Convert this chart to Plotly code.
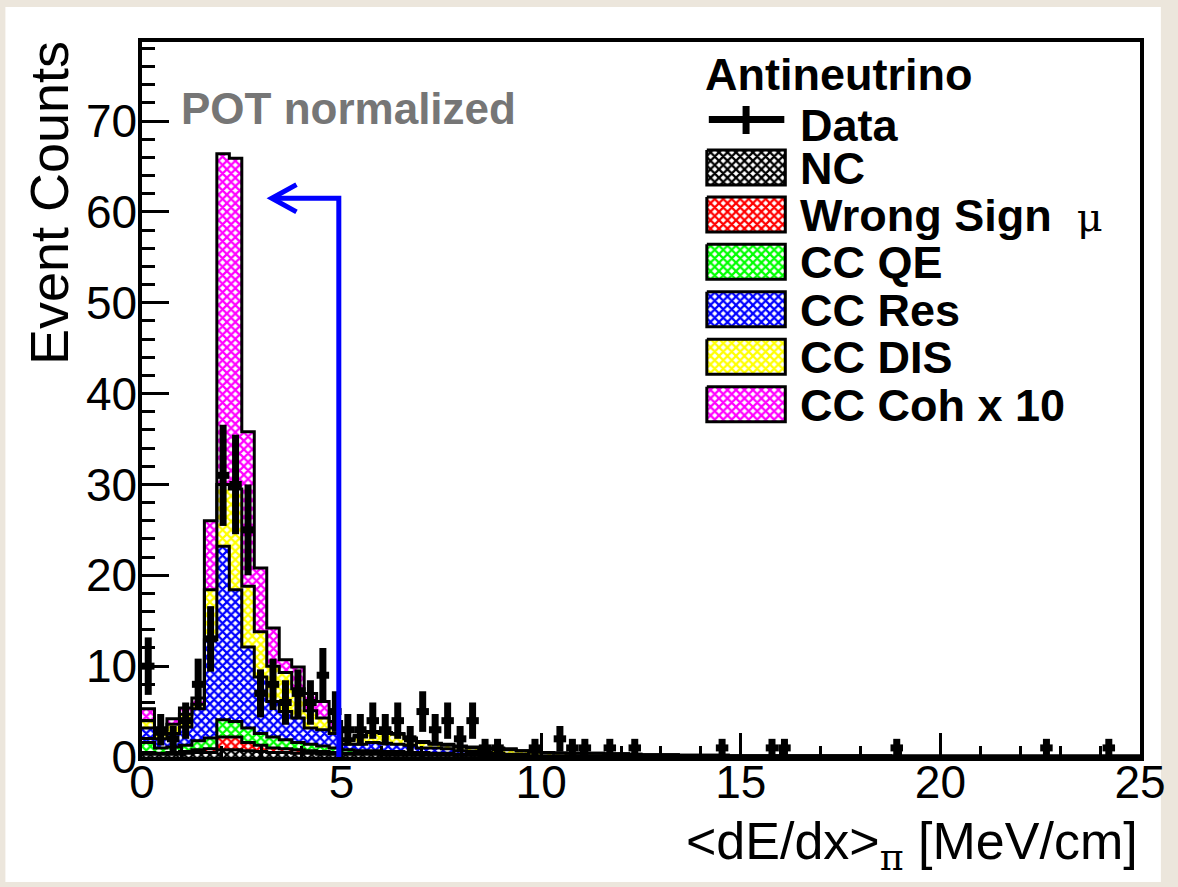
import numpy as np
import plotly.graph_objects as go

# ---------------- data ----------------
bin_width = 0.3125
n_bins = 80
bin_edges = np.arange(n_bins + 1) * bin_width
bin_centers = bin_edges[:-1] + bin_width / 2

nc = [0.3, 0.3, 0.3, 0.4, 0.5, 0.5, 0.8, 0.8, 0.7, 0.6,
      0.5, 0.5, 0.4, 0.4, 0.3, 0.3, 0.3, 0.3, 0.3, 0.2,
      0.2, 0.2, 0.2, 0.2, 0.2, 0.2, 0.2, 0.1, 0.1, 0.1,
      0.1, 0.1, 0.1, 0.1, 0.1, 0.1, 0.1, 0.1, 0.1, 0.1,
      0.05, 0.05, 0.05, 0.05, 0.05, 0.05, 0.05, 0.05, 0.05, 0.05,
      0.05, 0.05, 0.05, 0.05, 0.05, 0.05, 0.05, 0.05, 0.05, 0.05,
      0.05, 0.05, 0.05, 0.05, 0.05, 0.05, 0.05, 0.05, 0.05, 0.05,
      0.05, 0.05, 0.05, 0.05, 0.05, 0.05, 0.05, 0.05, 0.05, 0.05]
wrong_sign = [0.2, 0.1, 0.2, 0.2, 0.3, 0.4, 1.4, 1.4, 0.9, 0.7,
              0.5, 0.4, 0.4, 0.3, 0.3, 0.2, 0.1, 0.1, 0.1, 0.1,
              0.1, 0.1, 0.1, 0.1, 0.1, 0.0, 0.0, 0.1, 0.1, 0.05,
              0.05, 0.0, 0.0, 0.0, 0.0, 0.0, 0.0, 0.0, 0.0, 0.0,
              0.0, 0.0, 0.0, 0.0, 0.0, 0.0, 0.0, 0.0, 0.0, 0.0,
              0.0, 0.0, 0.0, 0.0, 0.0, 0.0, 0.0, 0.0, 0.0, 0.0,
              0.0, 0.0, 0.0, 0.0, 0.0, 0.0, 0.0, 0.0, 0.0, 0.0,
              0.0, 0.0, 0.0, 0.0, 0.0, 0.0, 0.0, 0.0, 0.0, 0.0]
cc_qe = [1.1, 0.6, 0.6, 0.7, 1.0, 1.2, 1.9, 1.7, 1.6, 1.3,
         1.2, 1.0, 0.8, 0.7, 0.6, 0.5, 0.4, 0.3, 0.3, 0.3,
         0.3, 0.2, 0.2, 0.1, 0.1, 0.1, 0.1, 0.1, 0.1, 0.05,
         0.05, 0.0, 0.0, 0.0, 0.0, 0.0, 0.0, 0.0, 0.0, 0.0,
         0.0, 0.0, 0.0, 0.0, 0.0, 0.0, 0.0, 0.0, 0.0, 0.0,
         0.0, 0.0, 0.0, 0.0, 0.0, 0.0, 0.0, 0.0, 0.0, 0.0,
         0.0, 0.0, 0.0, 0.0, 0.0, 0.0, 0.0, 0.0, 0.0, 0.0,
         0.0, 0.0, 0.0, 0.0, 0.0, 0.0, 0.0, 0.0, 0.0, 0.0]
cc_res = [1.6, 1.0, 1.5, 2.0, 3.5, 10.8, 19.1, 14.5, 8.9, 6.2,
          3.9, 3.1, 2.7, 1.8, 1.8, 1.6, 0.6, 0.7, 0.9, 0.9,
          0.8, 0.8, 0.5, 0.6, 0.5, 0.4, 0.3, 0.2, 0.1, 0.1,
          0.1, 0.05, 0.05, 0.0, 0.0, 0.0, 0.0, 0.0, 0.0, 0.0,
          0.0, 0.0, 0.0, 0.0, 0.0, 0.0, 0.0, 0.0, 0.0, 0.0,
          0.0, 0.0, 0.0, 0.0, 0.0, 0.0, 0.0, 0.0, 0.0, 0.0,
          0.0, 0.0, 0.0, 0.0, 0.0, 0.0, 0.0, 0.0, 0.0, 0.0,
          0.0, 0.0, 0.0, 0.0, 0.0, 0.0, 0.0, 0.0, 0.0, 0.0]
cc_dis = [0.8, 0.5, 1.0, 1.4, 0.5, 5.5, 6.8, 11.1, 6.7, 5.0,
          3.9, 4.3, 3.2, 1.9, 1.3, 0.6, 0.4, 0.8, 1.1, 1.1,
          1.1, 0.7, 0.6, 0.4, 0.4, 0.4, 0.4, 0.4, 0.5, 0.5,
          0.4, 0.4, 0.35, 0.35, 0.3, 0.3, 0.3, 0.25, 0.25, 0.2,
          0.2, 0.2, 0.2, 0.15, 0.15, 0.15, 0.15, 0.1, 0.1, 0.1,
          0.1, 0.1, 0.1, 0.1, 0.1, 0.1, 0.1, 0.1, 0.1, 0.1,
          0.05, 0.05, 0.05, 0.05, 0.05, 0.05, 0.05, 0.05, 0.05, 0.05,
          0.05, 0.05, 0.05, 0.05, 0.05, 0.05, 0.05, 0.05, 0.05, 0.05]
cc_coh_x10 = [1.3, 0.5, 0.6, 0.7, 0.7, 7.6, 36.4, 36.4, 17.0, 7.0,
              4.2, 1.4, 2.4, 1.9, 1.8, 0.7, 0.2, 0.2, 0.1, 0.1,
              0.1, 0.1, 0.1, 0.1, 0.1, 0.1, 0.1, 0.1, 0.1, 0.1,
              0.0, 0.0, 0.0, 0.0, 0.0, 0.0, 0.0, 0.0, 0.0, 0.0,
              0.0, 0.0, 0.0, 0.0, 0.0, 0.0, 0.0, 0.0, 0.0, 0.0,
              0.0, 0.0, 0.0, 0.0, 0.0, 0.0, 0.0, 0.0, 0.0, 0.0,
              0.0, 0.0, 0.0, 0.0, 0.0, 0.0, 0.0, 0.0, 0.0, 0.0,
              0.0, 0.0, 0.0, 0.0, 0.0, 0.0, 0.0, 0.0, 0.0, 0.0]
data_counts = [10, 3, 2, 4, 8, 13, 31, 30, 25, 7,
               8, 6, 7, 6, 9, 5, 3, 3, 4, 3,
               4, 2, 5, 3, 4, 2, 4, 1, 1, 0,
               0, 1, 0, 2, 1, 1, 0, 1, 0, 1,
               0, 0, 0, 0, 0, 0, 1, 0, 0, 0,
               1, 1, 0, 0, 0, 0, 0, 0, 0, 0,
               1, 0, 0, 0, 0, 0, 0, 0, 0, 0,
               0, 0, 1, 0, 0, 0, 0, 1, 0, 0]

component_names = ["NC", "Wrong Sign", "CC QE", "CC Res", "CC DIS", "CC Coh x 10"]
component_values = [nc, wrong_sign, cc_qe, cc_res, cc_dis, cc_coh_x10]
component_colors = ["#000000", "#ff0000", "#00ff00", "#0000ff", "#ffff00", "#ff00ff"]
legend_labels = ["NC", "Wrong Sign  <span style='font-family:\"DejaVu Serif\",serif;font-weight:normal;font-size:40px'>μ</span>",
                 "CC QE", "CC Res", "CC DIS", "CC Coh x 10"]

cut_value = 4.93       # dE/dx cut (blue arrow)
arrow_level = 61.5
arrow_tip = 3.25

x_range = [0, 25]
y_range = [0, 78.7]

# ---------------- geometry helpers (pixels) ----------------
W, H = 1178, 887
L, R, T, B = 141.5, 1146.0, 42.0, 757.0


def fx(px):
    return (px - L) / (R - L)


def fy(py):
    return (B - py) / (B - T)


FONT = "Liberation Sans, Arial, Helvetica, sans-serif"


def pattern(col):
    return dict(shape="x", fgcolor=col, bgcolor="white", size=6, solidity=0.6, fillmode="replace")


fig = go.Figure()

# stacked histogram
cum = np.zeros(n_bins)
for i, (name, vals, col) in enumerate(zip(component_names, component_values, component_colors)):
    cum = cum + np.array(vals, dtype=float)
    ystep = np.append(cum, cum[-1])
    fig.add_trace(go.Scatter(
        x=bin_edges, y=ystep, mode="lines", name=name,
        line=dict(shape="hv", color="black", width=3),
        fill="tozeroy" if i == 0 else "tonexty",
        fillcolor="white", fillpattern=pattern(col),
        showlegend=False, hoverinfo="skip"))

# data points
dc = np.array(data_counts, dtype=float)
mask = dc > 0
fig.add_trace(go.Scatter(
    x=bin_centers[mask], y=dc[mask], mode="markers", name="Data",
    marker=dict(color="black", size=8),
    error_y=dict(type="data", array=np.sqrt(dc[mask]), color="black", thickness=7, width=0),
    error_x=dict(type="constant", value=bin_width / 2, color="black", thickness=7, width=0),
    showlegend=False))

# legend swatches on a pixel-coordinate overlay axis
sw_x0, sw_x1 = 710, 789
row_centers = [167.5, 214.5, 261.7, 309.2, 356.7, 404.2]
sw_half = 17.5
for cy, col in zip(row_centers, component_colors):
    fig.add_trace(go.Scatter(
        x=[sw_x0, sw_x1, sw_x1, sw_x0, sw_x0],
        y=[cy - sw_half, cy - sw_half, cy + sw_half, cy + sw_half, cy - sw_half],
        xaxis="x2", yaxis="y2", mode="lines", fill="toself",
        fillcolor="white", fillpattern=pattern(col),
        line=dict(color="black", width=3), showlegend=False, hoverinfo="skip"))
# data legend cross
fig.add_trace(go.Scatter(x=[712, 788], y=[119.5, 119.5], xaxis="x2", yaxis="y2", mode="lines",
                         line=dict(color="black", width=7), showlegend=False, hoverinfo="skip"))
fig.add_trace(go.Scatter(x=[749.5, 749.5], y=[106, 134], xaxis="x2", yaxis="y2", mode="lines",
                         line=dict(color="black", width=7), showlegend=False, hoverinfo="skip"))

annotations = []
def text(px, py, s, size, xanchor="left", color="black", angle=0, bold=False):
    annotations.append(dict(
        x=fx(px), y=fy(py), xref="paper", yref="paper", text=f"<b>{s}</b>" if bold else s,
        showarrow=False, xanchor=xanchor, yanchor="middle", textangle=angle,
        font=dict(family=FONT, size=size, color=color)))

text(706, 75, "Antineutrino", 45, bold=True)
text(802, 125, "Data", 45, bold=True)
for cy, lab in zip(row_centers, legend_labels):
    text(802, cy + 1, lab, 45, bold=True)
text(179, 108, "POT normalized", 44, color="#767676", bold=True)
text(48, 203, "Event Counts", 54, xanchor="center", angle=-90)
annotations.append(dict(
    x=fx(1146), y=fy(845), xref="paper", yref="paper",
    text="&lt;dE/dx&gt;<sub><span style='font-family:\"DejaVu Serif\",serif'>π</span></sub> [MeV/cm]",
    showarrow=False, xanchor="right", yanchor="middle",
    font=dict(family=FONT, size=52, color="black")))

shapes = [
    dict(type="rect", xref="paper", yref="paper", x0=fx(4), x1=fx(1167), y0=fy(882), y1=fy(7),
         fillcolor="white", line=dict(width=0), layer="below"),
    dict(type="path", xref="x", yref="y",
         path=f"M {cut_value},0 L {cut_value},{arrow_level} L {arrow_tip + 0.1},{arrow_level}",
         line=dict(color="#0000ff", width=5)),
    dict(type="path", xref="x", yref="y",
         path=f"M {arrow_tip + 0.62},{arrow_level + 1.5} L {arrow_tip},{arrow_level} L {arrow_tip + 0.62},{arrow_level - 1.5}",
         line=dict(color="#0000ff", width=5)),
]

fig.update_layout(
    width=W, height=H,
    margin=dict(l=L, r=W - R, t=T, b=H - B, pad=0),
    paper_bgcolor="#ece6dc", plot_bgcolor="white",
    showlegend=False,
    font=dict(family=FONT, color="black"),
    xaxis=dict(range=x_range, tickvals=[0, 5, 10, 15, 20, 25], ticks="inside", ticklen=24, tickwidth=3,
               tickcolor="black", showgrid=False, zeroline=False, showline=True, linewidth=3.5,
               linecolor="black", mirror=True, tickfont=dict(size=46, family=FONT),
               ticklabelstandoff=-18,
               minor=dict(dtick=1, ticks="inside", ticklen=11, tickwidth=3, tickcolor="black")),
    yaxis=dict(range=y_range, tickvals=[0, 10, 20, 30, 40, 50, 60, 70], ticks="inside", ticklen=27,
               tickwidth=3, tickcolor="black", showgrid=False, zeroline=False, showline=True,
               linewidth=3.5, linecolor="black", mirror=True, tickfont=dict(size=46, family=FONT),
               ticklabelstandoff=-8,
               minor=dict(dtick=2, ticks="inside", ticklen=13, tickwidth=3, tickcolor="black")),
    xaxis2=dict(range=[L, R], overlaying="x", visible=False, showgrid=False),
    yaxis2=dict(range=[B, T], overlaying="y", visible=False, showgrid=False),
    annotations=annotations,
    shapes=shapes,
)

fig.write_html("out.html")
